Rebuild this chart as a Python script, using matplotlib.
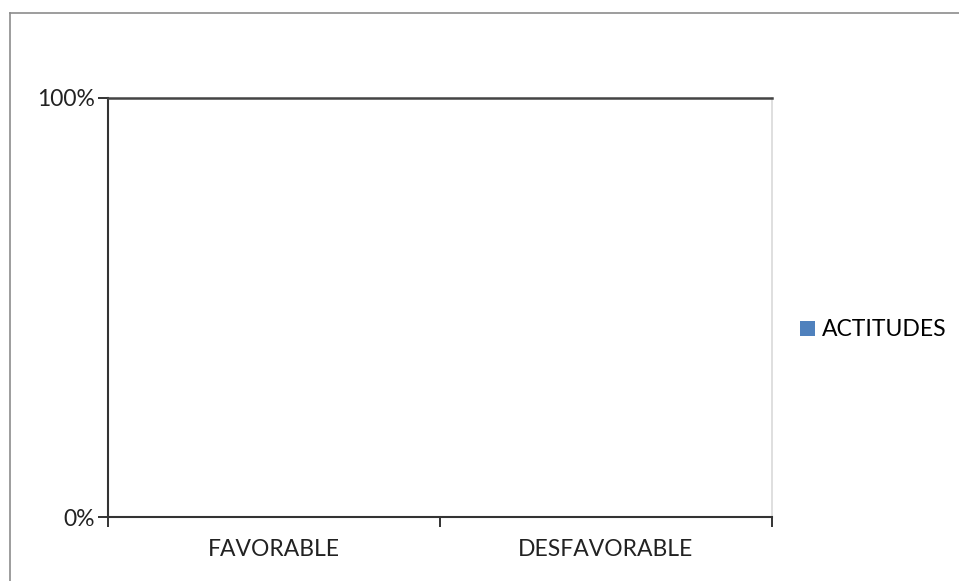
import matplotlib.pyplot as plt
from matplotlib.patches import Patch
from matplotlib.lines import Line2D
from matplotlib.ticker import FixedLocator, PercentFormatter

categories = ["FAVORABLE", "DESFAVORABLE"]
actitudes = [0.0, 0.0]
y_ticks = [0.0, 1.0]

plt.rcParams['font.family'] = ['Lato', 'DejaVu Sans']

fig = plt.figure(figsize=(9.59, 5.81), dpi=100)
ax = fig.add_axes([108 / 959, 1 - 517 / 581, 664 / 959, 419 / 581])

pos = list(range(len(categories)))
ax.bar(pos, actitudes, width=0.6, color='#4f81bd', linewidth=0, label='ACTITUDES')

ax.set_xlim(-0.5, len(categories) - 0.5)
ax.set_ylim(0, 1)

# category boundaries carry the tick marks, names sit between them
ax.xaxis.set_major_locator(FixedLocator([p - 0.5 for p in pos] + [pos[-1] + 0.5]))
ax.xaxis.set_minor_locator(FixedLocator(pos))
ax.set_xticklabels([], minor=False)
ax.set_xticklabels(categories, minor=True)
ax.tick_params(axis='x', which='major', direction='out', length=7.2, width=1.4,
               color='#333333')
ax.tick_params(axis='x', which='minor', length=0, pad=16, labelsize=16.5,
               labelcolor='#222222')

ax.set_yticks(y_ticks)
ax.yaxis.set_major_formatter(PercentFormatter(1.0, decimals=0))
ax.tick_params(axis='y', direction='out', length=7.2, width=1.4, color='#333333',
               pad=2, labelsize=16.5, labelcolor='#222222')

for side in ('left', 'bottom'):
    ax.spines[side].set_color('#333333')
    ax.spines[side].set_linewidth(1.5)
ax.spines['top'].set_color('#444444')
ax.spines['top'].set_linewidth(1.8)
ax.spines['right'].set_color('#d9d9d9')
ax.spines['right'].set_linewidth(1.2)

handles, labels = ax.get_legend_handles_labels()
handles = [Patch(facecolor='#4f81bd', edgecolor='none')]
fig.legend(handles, labels, loc='center left', bbox_to_anchor=(800 / 959, 1 - 330 / 581),
           frameon=False, fontsize=16.5, handlelength=0.65, handleheight=0.65,
           handletextpad=0.3, borderaxespad=0, borderpad=0)

# chart-area border (only the top and left edges fall inside the image)
fig.add_artist(Line2D([10 / 959, 10 / 959], [0, 1 - 13 / 581],
                      transform=fig.transFigure, color='#8c8c8c', linewidth=1.2))
fig.add_artist(Line2D([10 / 959, 1], [1 - 13 / 581, 1 - 13 / 581],
                      transform=fig.transFigure, color='#8c8c8c', linewidth=1.2))

fig.savefig('out.png', dpi=100)
